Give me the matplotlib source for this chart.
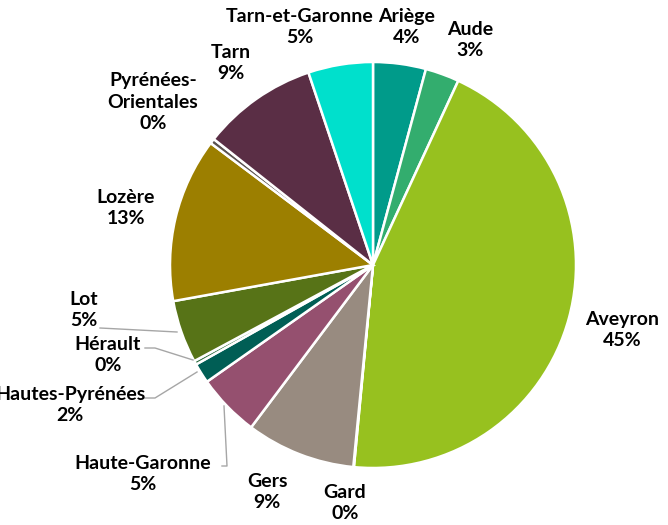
import numpy as np
import matplotlib.pyplot as plt

departements = ["Ariège", "Aude", "Aveyron", "Gard", "Gers", "Haute-Garonne",
                "Hautes-Pyrénées", "Hérault", "Lot", "Lozère",
                "Pyrénées-\nOrientales", "Tarn", "Tarn-et-Garonne"]
parts = [4.2, 2.7, 44.6, 0.05, 8.7, 5.0, 1.6, 0.3, 5.0, 13.1, 0.4, 9.2, 5.15]
colors = ["#009B8A", "#33AD6E", "#97C11F", "#8A7F78", "#988B80", "#95506F",
          "#005E55", "#2E6B3E", "#577317", "#9C7F00", "#5B5350", "#5A2E45", "#00E0CC"]

# label centres in pixels (x, y from top)
label_px = [(407, 27), (470, 40), (622, 330), (345, 503), (267, 492), (143, 474),
            (70, 405), (108, 355), (84, 310), (126, 208), (153, 102), (231, 63), (300, 27)]
# leader lines in pixels, for the labels that have one
leaders = {
    5: [(224, 406), (227, 466), (222, 466)],
    6: [(197, 372), (155, 398), (143, 398)],
    7: [(193, 360), (155, 348), (145, 348)],
    8: [(177, 332), (100, 328)],
}

W, H = 668, 525
cx, cy, R = 373, 265, 203


def to_data(px, py):
    return (px - cx) / R, (cy - py) / R


fig = plt.figure(figsize=(W / 100, H / 100), dpi=100)
ax = fig.add_axes([0, 0, 1, 1])
ax.pie(parts, colors=colors, startangle=90, counterclock=False, radius=1,
       wedgeprops=dict(edgecolor="white", linewidth=1.8))
ax.set_xlim(to_data(0, 0)[0], to_data(W, 0)[0])
ax.set_ylim(to_data(0, H)[1], to_data(0, 0)[1])
ax.set_aspect("equal")
ax.axis("off")

total = sum(parts)
for i, name in enumerate(departements):
    x, y = to_data(*label_px[i])
    ax.text(x, y, f"{name}\n{parts[i] / total * 100:.0f}%", ha="center", va="center",
            fontsize=14, fontweight="bold", family=["Lato", "DejaVu Sans"],
            color="black", linespacing=1.3)

for i, pts in leaders.items():
    xs, ys = zip(*[to_data(px, py) for px, py in pts])
    ax.plot(xs, ys, color="#A6A6A6", linewidth=1)

fig.savefig("out.png", dpi=100)
